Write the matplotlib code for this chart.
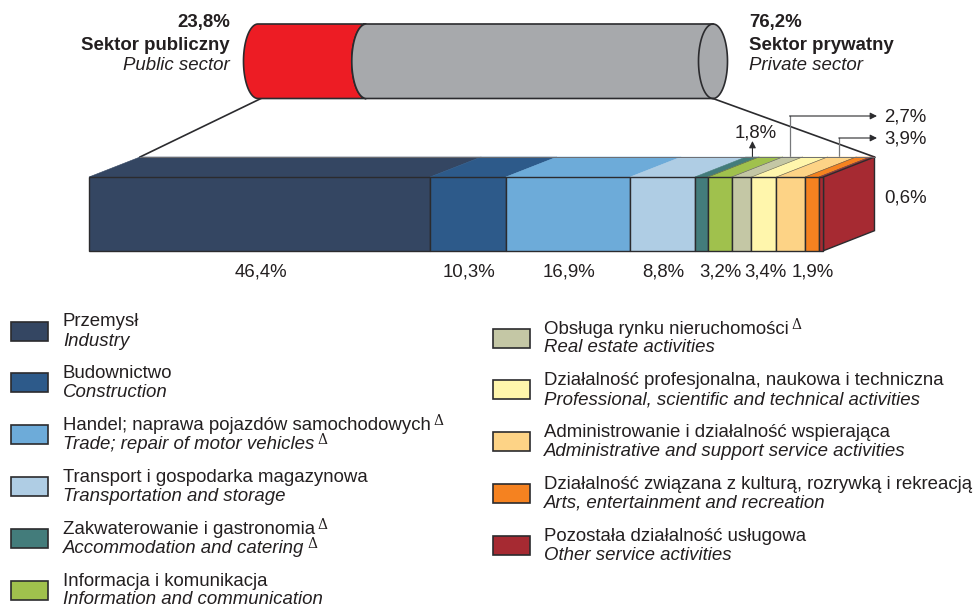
import numpy as np
from matplotlib import pyplot as plt
from matplotlib.patches import Polygon, Rectangle

plt.rcParams['font.family'] = ['Liberation Sans', 'DejaVu Sans']

# data
sector_share = [23.8, 76.2]
sector_pl = ["Sektor publiczny", "Sektor prywatny"]
sector_en = ["Public sector", "Private sector"]

shares = [46.4, 10.3, 16.9, 8.8, 1.8, 3.2, 2.7, 3.4, 3.9, 1.9, 0.6]
colors = ["#344662", "#2d5a8a", "#6dabd9", "#afcde4", "#437c7b", "#a0c14d",
          "#c4c7a5", "#fff6ac", "#fdd386", "#f58220", "#a62a32"]
names_pl = ["Przemysł", "Budownictwo", "Handel; naprawa pojazdów samochodowych",
            "Transport i gospodarka magazynowa", "Zakwaterowanie i gastronomia",
            "Informacja i komunikacja", "Obsługa rynku nieruchomości",
            "Działalność profesjonalna, naukowa i techniczna",
            "Administrowanie i działalność wspierająca",
            "Działalność związana z kulturą, rozrywką i rekreacją",
            "Pozostała działalność usługowa"]
names_en = ["Industry", "Construction", "Trade; repair of motor vehicles",
            "Transportation and storage", "Accommodation and catering",
            "Information and communication", "Real estate activities",
            "Professional, scientific and technical activities",
            "Administrative and support service activities",
            "Arts, entertainment and recreation", "Other service activities"]
delta_pl = [2, 4, 6]
delta_en = [2, 4]

W, H = 978, 607
INK = "#231f20"
LINE = "#2b2b2e"
FS = 13.4


def px_axes(fig, x0, y0, x1, y1):
    # axes placed by its pixel box, y counted from the top
    return fig.add_axes([x0 / W, 1 - y1 / H, (x1 - x0) / W, (y1 - y0) / H])


def fmt(v):
    return f"{v:.1f}%".replace(".", ",")


fig = plt.figure(figsize=(W / 100, H / 100), dpi=100)

# page axes in pixels, for the text and the legend
ax = px_axes(fig, 0, 0, W, H)
ax.set_xlim(0, W)
ax.set_ylim(H, 0)
ax.set_axis_off()

# cylinder, x axis is the share of the two sectors
ax_cyl = px_axes(fig, 258, 24, 713, 98.5)
ax_cyl.set_xlim(0, sum(sector_share))
ax_cyl.set_ylim(-1, 1)
ax_cyl.set_axis_off()

cap = 14.5 / 455 * 100
t = np.linspace(-np.pi / 2, np.pi / 2, 80)
arc_x, arc_y = cap * np.cos(t), np.sin(t)
split = sector_share[0]
total = sum(sector_share)

ax_cyl.fill(np.r_[-arc_x, split - arc_x[::-1]], np.r_[arc_y, arc_y[::-1]],
            color="#ed1c24", ec=LINE, lw=1.2, clip_on=False)
ax_cyl.fill(np.r_[split - arc_x, total + arc_x[::-1]], np.r_[arc_y, arc_y[::-1]],
            color="#a7a9ac", ec=LINE, lw=1.2, clip_on=False)
ax_cyl.plot(total - arc_x, arc_y, color=LINE, lw=1.2, clip_on=False)

# stacked block, x axis is the share of the branches, y 0-1 is the front face
ax_bar = px_axes(fig, 89, 177, 823.5, 250.7)
ax_bar.set_xlim(0, sum(shares))
ax_bar.set_ylim(0, 1)
ax_bar.set_axis_off()

unit = (823.5 - 89) / sum(shares)
depth_x = 51 / unit
depth_y = 20 / 73.7
lefts = np.r_[0, np.cumsum(shares)[:-1]]
mids = lefts + np.array(shares) / 2
end = sum(shares)

for left, w, c in zip(lefts, shares, colors):
    ax_bar.add_patch(Polygon([(left, 1), (left + w, 1),
                              (left + w + depth_x, 1 + depth_y), (left + depth_x, 1 + depth_y)],
                             fc=c, ec=c, lw=0.4, clip_on=False))
for left in lefts[5:]:
    ax_bar.plot([left, left + depth_x], [1, 1 + depth_y], color="#55584f", lw=0.4, clip_on=False)
ax_bar.plot([depth_x, end + depth_x], [1 + depth_y, 1 + depth_y], color="#6d6e71", lw=0.7, clip_on=False)
ax_bar.add_patch(Polygon([(end, 0), (end + depth_x, depth_y),
                          (end + depth_x, 1 + depth_y), (end, 1)],
                         fc=colors[-1], ec=LINE, lw=1.0, clip_on=False))
ax_bar.bar(lefts, [1] * len(shares), width=shares, align="edge", color=colors,
           edgecolor=LINE, linewidth=1.0, clip_on=False)


def bar_px(x):
    # share position on the block -> page pixel
    return ax.transData.inverted().transform(ax_bar.transData.transform((x, 0)))[0]


# connector lines between the cylinder and the block
ax.plot([261, bar_px(depth_x)], [98.5, 157], color=LINE, lw=1.2)
ax.plot([713, bar_px(end + depth_x)], [98.5, 157], color=LINE, lw=1.2)

# cylinder labels
for x, ha, v, pl, en in zip([230, 749], ["right", "left"], sector_share, sector_pl, sector_en):
    ax.text(x, 22, fmt(v), ha=ha, va="center", fontsize=FS, fontweight="bold", color=INK)
    ax.text(x, 45, pl, ha=ha, va="center", fontsize=FS, fontweight="bold", color=INK)
    ax.text(x, 66, en, ha=ha, va="center", fontsize=FS, style="italic", color=INK)

# value labels under the block
for i in [0, 1, 2, 3, 5, 7, 9]:
    ax.text(bar_px(mids[i]) + 1, 272, fmt(shares[i]), ha="center", va="center", fontsize=FS, color=INK)
ax.text(884, 198, fmt(shares[10]), ha="left", va="center", fontsize=FS, color=INK)

# labels with arrows above the block
x18 = bar_px(mids[4] + depth_x)
ax.annotate("", xy=(x18, 141), xytext=(x18, 157),
            arrowprops=dict(arrowstyle="-|>", color=LINE, lw=0.8, shrinkA=0, shrinkB=0, mutation_scale=10))
ax.text(756, 133, fmt(shares[4]), ha="center", va="center", fontsize=FS, color=INK)
for i, y in zip([6, 8], [116, 138]):
    x = bar_px(mids[i] + depth_x) - 3
    ax.plot([x, x], [157, y], color="#77787b", lw=0.9)
    ax.annotate("", xy=(877, y), xytext=(x, y),
                arrowprops=dict(arrowstyle="-|>", color=LINE, lw=0.8, shrinkA=0, shrinkB=0, mutation_scale=10))
    ax.text(884, y + 1, fmt(shares[i]), ha="left", va="center", fontsize=FS, color=INK)


def delta(txt):
    ax.annotate("Δ", xy=(1, 1), xycoords=txt, xytext=(2, -8), textcoords="offset points",
                ha="left", va="bottom", fontsize=10, family="DejaVu Serif", color=INK)


# legend, two columns
columns = [(range(0, 6), 11, 63, 331), (range(6, 11), 493, 544, 338)]
for idx, x_sw, x_txt, y_first in columns:
    for row, i in enumerate(idx):
        y = y_first + row * 51.8
        ax.add_patch(Rectangle((x_sw, y - 9.5), 37, 19, fc=colors[i], ec=LINE, lw=1.2))
        t_pl = ax.text(x_txt, y - 9, names_pl[i], ha="left", va="center", fontsize=FS, color=INK)
        t_en = ax.text(x_txt, y + 10, names_en[i], ha="left", va="center", fontsize=FS,
                       style="italic", color=INK)
        if i in delta_pl:
            delta(t_pl)
        if i in delta_en:
            delta(t_en)

fig.savefig("out.png", dpi=100)
